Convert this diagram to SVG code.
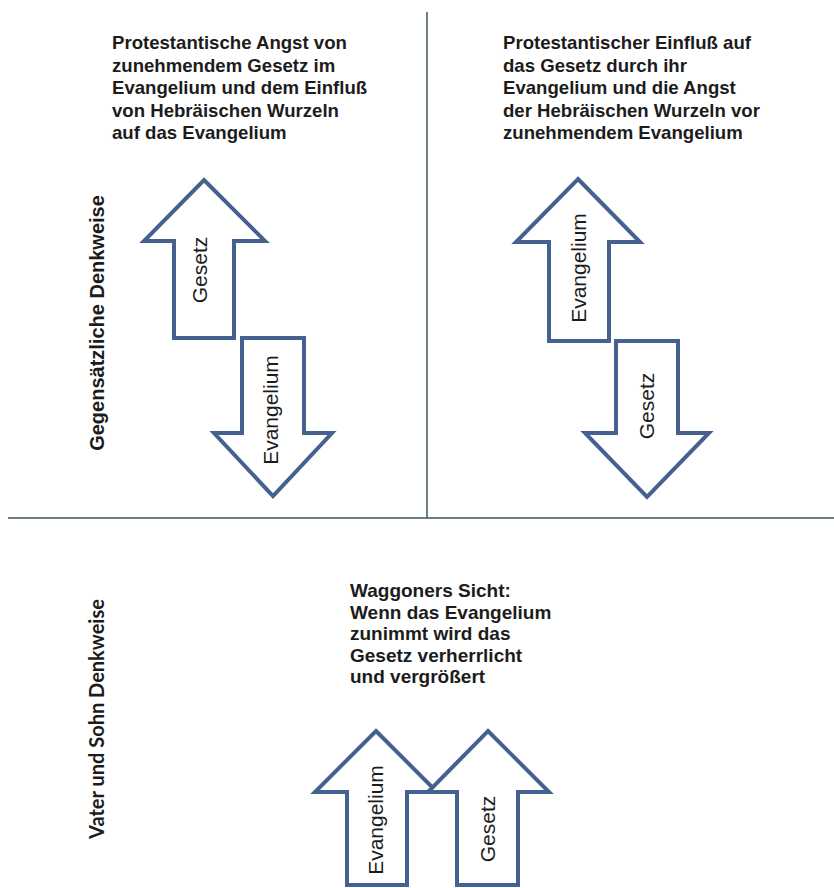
<svg xmlns="http://www.w3.org/2000/svg" width="834" height="888" viewBox="0 0 834 888">
<style>
  .bg { fill: #ffffff; }
  .div { stroke: #3d5560; stroke-width: 1.5; fill: none; }
  .arrow { fill: #ffffff; stroke: #44618f; stroke-width: 4; stroke-linejoin: miter; }
  .head { font-family: "Liberation Sans", Arial, sans-serif; font-weight: bold; font-size: 18.6px; fill: #1c1c1c; }
  .foot { font-family: "Liberation Sans", Arial, sans-serif; font-weight: bold; font-size: 19px; fill: #1c1c1c; }
  .lbl { font-family: "Liberation Sans", Arial, sans-serif; font-size: 21px; fill: #1c1c1c; text-anchor: middle; }
  .side { font-family: "Liberation Sans", Arial, sans-serif; font-weight: bold; font-size: 20px; fill: #1c1c1c; text-anchor: middle; }
  .side2 { font-family: Lato, "Liberation Sans", sans-serif; font-weight: bold; font-size: 20px; fill: #1c1c1c; text-anchor: middle; }
</style>
<rect class="bg" x="0" y="0" width="834" height="888"/>

<g id="dividers">
  <line class="div" x1="427" y1="12" x2="427" y2="518"/>
  <line class="div" x1="8" y1="518" x2="834" y2="518"/>
</g>

<g id="header-left">
  <text class="head" x="112" y="49">Protestantische Angst von</text>
  <text class="head" x="112" y="71.5">zunehmendem Gesetz im</text>
  <text class="head" x="112" y="94">Evangelium und dem Einfluß</text>
  <text class="head" x="112" y="116.5">von Hebräischen Wurzeln</text>
  <text class="head" x="112" y="139">auf das Evangelium</text>
</g>

<g id="header-right">
  <text class="head" x="503" y="49">Protestantischer Einfluß auf</text>
  <text class="head" x="503" y="71.5">das Gesetz durch ihr</text>
  <text class="head" x="503" y="94">Evangelium und die Angst</text>
  <text class="head" x="503" y="116.5">der Hebräischen Wurzeln vor</text>
  <text class="head" x="503" y="139">zunehmendem Evangelium</text>
</g>

<g id="header-bottom">
  <text class="foot" x="350" y="597">Waggoners Sicht:</text>
  <text class="foot" x="350" y="618.5">Wenn das Evangelium</text>
  <text class="foot" x="350" y="640">zunimmt wird das</text>
  <text class="foot" x="350" y="661.5">Gesetz verherrlicht</text>
  <text class="foot" x="350" y="683">und vergrößert</text>
</g>

<g id="side-top">
  <text class="side" transform="translate(104,323) rotate(-90)">Gegensätzliche Denkweise</text>
</g>
<g id="side-bottom">
  <text class="side2" transform="translate(104,719) rotate(-90)">Vater und Sohn Denkweise</text>
</g>

<g id="arrow-gesetz-up-left">
  <polygon class="arrow" points="204,180 265,241 234,241 234,338 174,338 174,241 144,241"/>
  <text class="lbl" transform="translate(207,270) rotate(-90)">Gesetz</text>
</g>
<g id="arrow-evangelium-down-left">
  <polygon class="arrow" points="242,338 304,338 304,433 332,433 273,496 214,433 242,433"/>
  <text class="lbl" transform="translate(278,410) rotate(-90)">Evangelium</text>
</g>

<g id="arrow-evangelium-up-right">
  <polygon class="arrow" points="578,179 640,242 609,242 609,341 549,341 549,242 516,242"/>
  <text class="lbl" transform="translate(586,268) rotate(-90)">Evangelium</text>
</g>
<g id="arrow-gesetz-down-right">
  <polygon class="arrow" points="616,341 678,341 678,433 709,433 647,497 585,433 616,433"/>
  <text class="lbl" transform="translate(654,406) rotate(-90)">Gesetz</text>
</g>

<g id="arrow-evangelium-up-bottom">
  <polygon class="arrow" points="376,731 437,792 407,792 407,885 347,885 347,792 315,792"/>
  <text class="lbl" transform="translate(383,820) rotate(-90)">Evangelium</text>
</g>
<g id="arrow-gesetz-up-bottom">
  <polygon class="arrow" points="488,731 549,792 518,792 518,885 457,885 457,792 428,792"/>
  <text class="lbl" transform="translate(495,829) rotate(-90)">Gesetz</text>
</g>
</svg>
